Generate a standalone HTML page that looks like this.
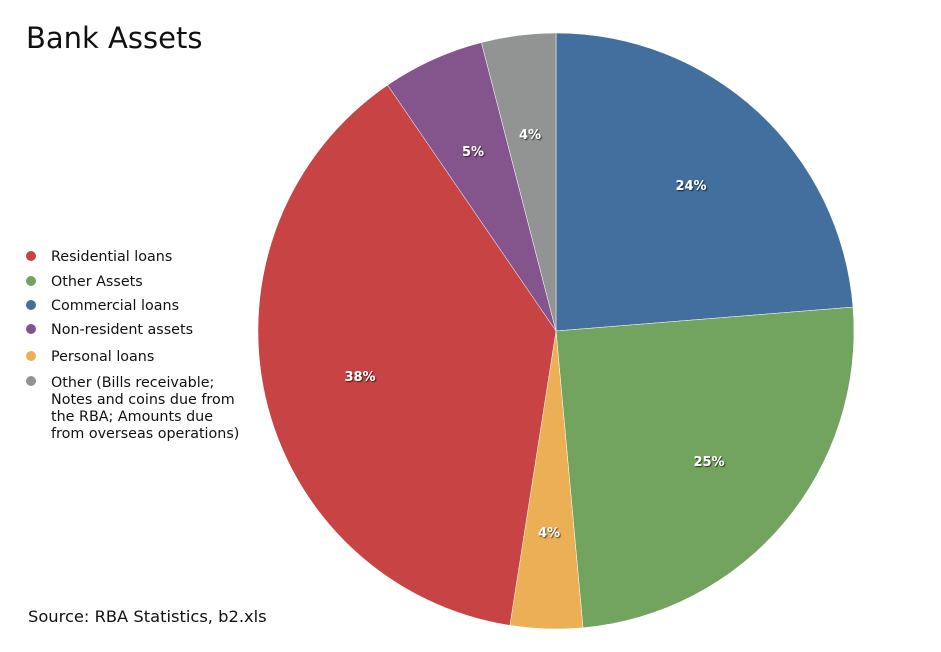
<!DOCTYPE html>
<html><head><meta charset="utf-8"><style>
body{margin:0;background:#fff;}
svg{display:block;font-family:"DejaVu Sans","Liberation Sans",sans-serif;}
.l{font-size:14.3px;fill:#111;}
.p{font-size:13px;font-weight:bold;fill:#fff;text-anchor:middle;}
</style></head><body>
<svg width="941" height="652" viewBox="0 0 941 652">
<defs><filter id="s" x="-20%" y="-20%" width="140%" height="140%"><feDropShadow dx="1" dy="1" stdDeviation="0.6" flood-color="#000" flood-opacity="0.7"/></filter></defs>
<rect width="941" height="652" fill="#fff"/>
<text x="26" y="48" style="font-size:29px" fill="#111">Bank Assets</text>
<g stroke="#fff" stroke-width="0.5">
<path d="M556,331 L556,33 A298,298 0 0 1 853,307.1 Z" fill="#426f9e"/>
<path d="M556,331 L853,307.1 A298,298 0 0 1 583,627.8 Z" fill="#72a45f"/>
<path d="M556,331 L583,627.8 A298,298 0 0 1 509.9,625.4 Z" fill="#ebaf55"/>
<path d="M556,331 L509.9,625.4 A298,298 0 0 1 387.6,85.1 Z" fill="#c84343"/>
<path d="M556,331 L387.6,85.1 A298,298 0 0 1 481.4,42.5 Z" fill="#84558d"/>
<path d="M556,331 L481.4,42.5 A298,298 0 0 1 556,33 Z" fill="#929393"/>
</g>
<g filter="url(#s)">
<text class="p" x="691" y="190">24%</text>
<text class="p" x="709" y="466">25%</text>
<text class="p" x="549" y="537">4%</text>
<text class="p" x="360" y="381">38%</text>
<text class="p" x="473" y="156">5%</text>
<text class="p" x="530" y="139">4%</text>
</g>
<circle cx="31" cy="256" r="5" fill="#c84343"/>
<circle cx="31" cy="281" r="5" fill="#72a45f"/>
<circle cx="31" cy="305" r="5" fill="#426f9e"/>
<circle cx="31" cy="329" r="5" fill="#84558d"/>
<circle cx="31" cy="356" r="5" fill="#ebaf55"/>
<circle cx="31" cy="381" r="5" fill="#929393"/>
<text class="l" x="51" y="261">Residential loans</text>
<text class="l" x="51" y="286">Other Assets</text>
<text class="l" x="51" y="310">Commercial loans</text>
<text class="l" x="51" y="334">Non-resident assets</text>
<text class="l" x="51" y="361">Personal loans</text>
<text class="l" x="51" y="387">Other (Bills receivable;</text>
<text class="l" x="51" y="404">Notes and coins due from</text>
<text class="l" x="51" y="421">the RBA; Amounts due</text>
<text class="l" x="51" y="438">from overseas operations)</text>
<text x="28" y="622" style="font-size:16.3px" fill="#111">Source: RBA Statistics, b2.xls</text>
</svg>
</body></html>
